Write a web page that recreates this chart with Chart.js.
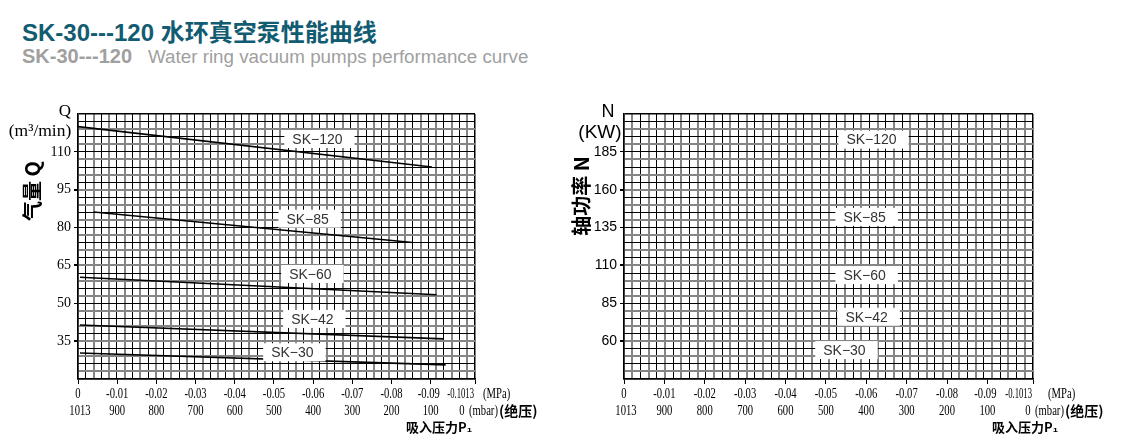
<!DOCTYPE html>
<html>
<head>
<meta charset="utf-8">
<script src="https://cdn.jsdelivr.net/npm/chart.js@4.4.1/dist/chart.umd.min.js"></script>
<style>
  html, body { margin: 0; padding: 0; background: #fff; }
  body { width: 1130px; height: 446px; position: relative; overflow: hidden; font-family: "Liberation Sans", Arial, sans-serif; }
  .title { position: absolute; left: 22px; top: 19px; font-size: 24px; line-height: 28px; font-weight: bold; color: #125c72; white-space: nowrap; font-family: "Liberation Sans", "Noto Sans CJK SC", sans-serif; }
  .subtitle { position: absolute; left: 22px; top: 45px; font-size: 18.8px; line-height: 22px; color: #a0a0a0; white-space: nowrap; }
  .subtitle b { font-size: 20px; margin-right: 16px; }
  #wrapL { position: absolute; left: 0; top: 0; width: 560px; height: 446px; }
  #wrapR { position: absolute; left: 560px; top: 0; width: 570px; height: 446px; }
</style>
</head>
<body>
<div class="title">SK-30---120 水环真空泵性能曲线</div>
<div class="subtitle"><b>SK-30---120</b>Water ring vacuum pumps performance curve</div>
<div id="wrapL"><canvas id="flowChart"></canvas></div>
<div id="wrapR"><canvas id="powerChart"></canvas></div>
<script>
// suction pressure axis (gauge MPa) and matching absolute pressure (mbar)
const pressureMPa = [0, -0.01, -0.02, -0.03, -0.04, -0.05, -0.06, -0.07, -0.08, -0.09, -0.1013];
const mpaLabels = ["0", "-0.01", "-0.02", "-0.03", "-0.04", "-0.05", "-0.06", "-0.07", "-0.08", "-0.09", "-0.1013"];
const mbarLabels = ["1013", "900", "800", "700", "600", "500", "400", "300", "200", "100", "0"];

const models = ["SK\u2212120", "SK\u221285", "SK\u221260", "SK\u221242", "SK\u221230"];

// air flow Q (m3/min): each curve read at its start and end
const flowStartP = [0, -0.004, -0.0005, -0.0005, -0.0005];
const flowEndP = [-0.0903, -0.0854, -0.0915, -0.0932, -0.0938];
const flowStart = [120, 86.2, 60.3, 41.4, 30.3];
const flowEnd = [104, 74.1, 53.4, 35.9, 25.6];

// tick labels
const flowTicks = [35, 50, 65, 80, 95, 110];
const powerTicks = [60, 85, 110, 135, 160, 185];

// where the model tags sit (in axis units)
const flowTagP = [-0.0611, -0.0586, -0.0593, -0.0598, -0.0547];
const flowTagQ = [115.1, 83.5, 61.6, 43.8, 30.6];
const powerTagP = [-0.0613, -0.0596, -0.0596, -0.0601, -0.0546];
const powerTagN = [193.1, 142.1, 103.6, 76.1, 54.1];

const BLACK = "#000";
const GRAY = "#858585";

function cells(min, max, n) {
  const out = [];
  for (let i = 0; i <= n; i++) out.push({ value: min + (max - min) * i / n });
  return out;
}

function gridColor(ctx, n) {
  if (ctx.index === 0 || ctx.index === n) return BLACK;
  return ctx.index % 2 ? GRAY : BLACK;
}
function gridWidth(ctx, n) {
  if (ctx.index === 0 || ctx.index === n) return 1.5;
  return ctx.index % 2 ? 2 : 1;
}

// narrow serif text, like the condensed digits of the original
function narrowText(ctx, text, x, y, align, k = 0.76) {
	ctx.save();
	ctx.translate(x, y);
	ctx.scale(k, 1);
	ctx.textAlign = align;
	ctx.fillText(text, 0, 0);
	const w = ctx.measureText(text).width * k;
	ctx.restore();
	return w;
}

const pressureLabels = {
	id: "pressureLabels",
	afterDraw(chart, args, opts) {
		const sx = chart.scales.x;
		const a = chart.chartArea;
		const ctx = chart.ctx;
		const last = pressureMPa.length - 1;
		ctx.save();
		ctx.font = '14px "Liberation Serif", serif';
		ctx.fillStyle = "#000";
		ctx.textBaseline = "middle";
		pressureMPa.forEach((v, i) => {
			const px = sx.getPixelForValue(v);
			if (i === last) {
				narrowText(ctx, mpaLabels[i], px - 1, a.bottom + 15, "right", 0.62);
				narrowText(ctx, mbarLabels[i], px + opts.zeroShift, a.bottom + 32, "center");
				narrowText(ctx, "(MPa)", px + opts.unitShift, a.bottom + 15, "left");
				const ux = px + opts.zeroShift + 7;
				const w = narrowText(ctx, "(mbar)", ux, a.bottom + 32, "left");
				ctx.save();
				ctx.font = 'bold 14px "Noto Sans CJK SC", sans-serif';
				ctx.textAlign = "left";
				ctx.fillText("(绝压)", ux + w + 1, a.bottom + 32);
				ctx.restore();
			} else {
				narrowText(ctx, mpaLabels[i], px - (i === 9 ? 2 : 0), a.bottom + 15, "center");
				narrowText(ctx, mbarLabels[i], px + (i === 0 ? 2 : 0), a.bottom + 32, "center");
			}
		});
		ctx.restore();
	},
};

const modelTags = {
	id: "modelTags",
	afterDatasetsDraw(chart, args, opts) {
		const sx = chart.scales.x;
		const sy = chart.scales.y;
		const ctx = chart.ctx;
		ctx.save();
		ctx.font = '14px "Liberation Sans", Arial, sans-serif';
		ctx.textBaseline = "middle";
		ctx.textAlign = "center";
		models.forEach((m, i) => {
			const px = sx.getPixelForValue(opts.xs[i]);
			const py = sy.getPixelForValue(opts.ys[i]);
			const w = ctx.measureText(m).width;
			ctx.fillStyle = "#fff";
			ctx.fillRect(px - w / 2 - 8, py - 9, w + 20, 18);
			ctx.fillStyle = "#333";
			ctx.fillText(m, px, py + 1);
		});
		ctx.restore();
	},
};

const axisTitles = {
	id: "axisTitles",
	afterDraw(chart, args, opts) {
		const ctx = chart.ctx;
		const a = chart.chartArea;
		ctx.save();
		ctx.fillStyle = "#000";
		ctx.textBaseline = "middle";
		ctx.textAlign = "center";
		opts.items.forEach((t) => {
			ctx.font = t.font;
			const x = a.left + t.dx;
			const y = (t.fromBottom ? a.bottom : a.top) + t.dy;
			if (t.rotate) {
				ctx.save();
				ctx.translate(x, y);
				ctx.rotate(-Math.PI / 2);
				ctx.fillText(t.text, 0, 0);
				ctx.restore();
			} else {
				ctx.fillText(t.text, x, y);
			}
		});
		ctx.restore();
	},
};

function makeOptions(cfg) {
	return {
		responsive: true,
		maintainAspectRatio: false,
		animation: false,
		layout: { padding: cfg.padding },
		plugins: {
			legend: { display: false },
			tooltip: { enabled: false },
			modelTags: { xs: cfg.tagX, ys: cfg.tagY },
			pressureLabels: { zeroShift: cfg.zeroShift, unitShift: cfg.unitShift },
			axisTitles: { items: cfg.titles },
		},
		scales: {
			x: {
				type: "linear",
				position: "bottom",
				min: -0.1013,
				max: 0,
				reverse: true,
				ticks: { display: false },
				grid: { drawOnChartArea: false, drawTicks: true, tickLength: 5, color: BLACK, lineWidth: 1 },
				border: { display: true, color: BLACK, width: 1.5 },
				afterBuildTicks: (s) => { s.ticks = pressureMPa.map((v) => ({ value: v })); },
				afterFit: (s) => { s.height = 5; },
			},
			xg: {
				type: "linear",
				position: "bottom",
				min: -0.1013,
				max: 0,
				reverse: true,
				ticks: { display: false },
				grid: {
					drawTicks: false,
					color: (c) => gridColor(c, cfg.cols),
					lineWidth: (c) => gridWidth(c, cfg.cols),
				},
				border: { display: false },
				afterBuildTicks: (s) => { s.ticks = cells(-0.1013, 0, cfg.cols); },
				afterFit: (s) => { s.height = 0; },
			},
			y: {
				type: "linear",
				min: cfg.yMin,
				max: cfg.yMax,
				ticks: {
					autoSkip: false,
					padding: 3,
					color: "#000",
					font: cfg.tickFont,
					callback: (v) => (cfg.yLabels.includes(v) ? String(v) : ""),
				},
				grid: {
					drawTicks: true,
					tickLength: 4,
					color: (c) => gridColor(c, cfg.rows),
					lineWidth: (c) => gridWidth(c, cfg.rows),
					tickColor: (c) => (cfg.yLabels.includes(c.tick.value) ? BLACK : "rgba(0,0,0,0)"),
				},
				border: { display: true, color: BLACK, width: 1.5 },
				afterBuildTicks: (s) => { s.ticks = cells(cfg.yMin, cfg.yMax, cfg.rows).map((t) => ({ value: Math.round(t.value * 100) / 100 })); },
				afterFit: (s) => { s.width = 32; },
			},
		},
	};
}

const flowDatasets = models.map((m, i) => ({
	label: m,
	data: [
		{ x: flowStartP[i], y: flowStart[i] },
		{ x: flowEndP[i], y: flowEnd[i] },
	],
	borderColor: "#000",
	borderWidth: 1.6,
	pointRadius: 0,
	tension: 0,
	fill: false,
}));

new Chart(document.getElementById("flowChart").getContext("2d"), {
	type: "line",
	data: { datasets: flowDatasets },
	options: makeOptions({
		padding: { top: 114, left: 46, right: 85, bottom: 62 },
		cols: 51,
		rows: 35,
		yMin: 20,
		yMax: 125,
		yLabels: flowTicks,
		tickFont: { family: '"Liberation Serif", serif', size: 14 },
		tagX: flowTagP,
		tagY: flowTagQ,
		zeroShift: -13,
		unitShift: 8,
		titles: [
			{ text: "Q", font: '17px "Liberation Serif", serif', dx: -13, dy: -2 },
			{ text: "(m³/min)", font: '17.5px "Liberation Serif", serif', dx: -38, dy: 17 },
			{ text: "气量 Q", font: 'bold 20px "Noto Sans CJK SC", sans-serif', dx: -46, dy: 77, rotate: true },
			{ text: "吸入压力P₁", font: 'bold 13px "Noto Sans CJK SC", sans-serif', dx: 361, dy: 48, fromBottom: true },
		],
	}),
	plugins: [modelTags, pressureLabels, axisTitles],
});

new Chart(document.getElementById("powerChart").getContext("2d"), {
	type: "line",
	data: { datasets: [] },
	options: makeOptions({
		padding: { top: 114, left: 32, right: 97, bottom: 62 },
		cols: 50,
		rows: 35,
		yMin: 35,
		yMax: 210,
		yLabels: powerTicks,
		tickFont: { family: '"Liberation Sans", Arial, sans-serif', size: 14 },
		tagX: powerTagP,
		tagY: powerTagN,
		zeroShift: -5,
		unitShift: 15,
		titles: [
			{ text: "N", font: '18px "Liberation Sans", Arial, sans-serif', dx: -16, dy: -2 },
			{ text: "(KW)", font: '19px "Liberation Sans", Arial, sans-serif', dx: -24, dy: 19 },
			{ text: "轴功率 N", font: 'bold 20px "Noto Sans CJK SC", sans-serif', dx: -43, dy: 82, rotate: true },
			{ text: "吸入压力P₁", font: 'bold 13px "Noto Sans CJK SC", sans-serif', dx: 401, dy: 48, fromBottom: true },
		],
	}),
	plugins: [modelTags, pressureLabels, axisTitles],
});
</script>
</body>
</html>
